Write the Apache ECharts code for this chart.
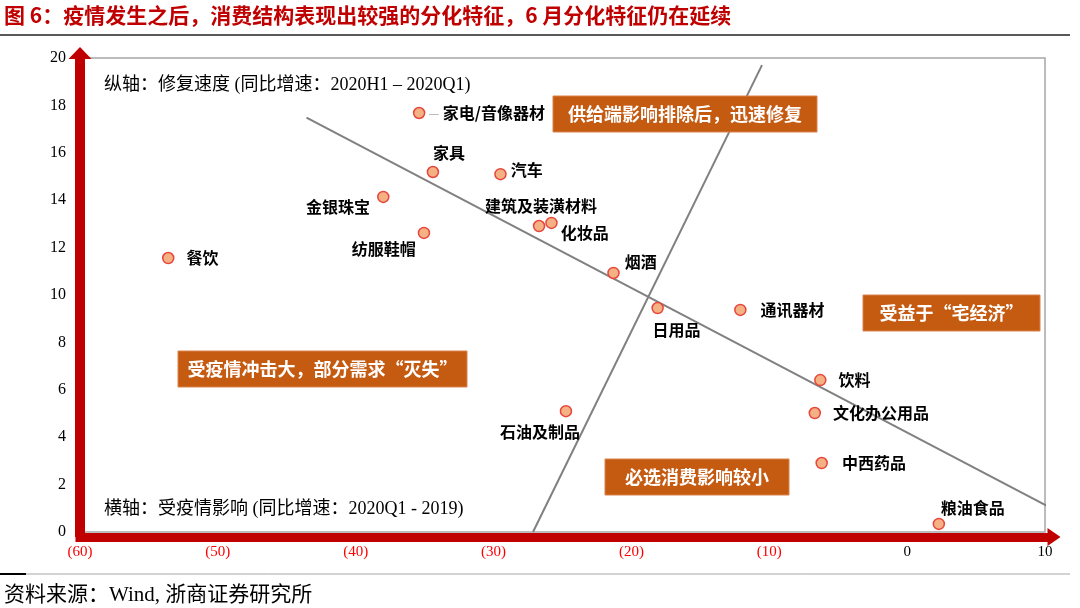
<!DOCTYPE html>
<html>
<head>
<meta charset="utf-8">
<script src="https://cdn.jsdelivr.net/npm/echarts@6/dist/echarts.min.js"></script>
<style>
html,body{margin:0;padding:0;background:#fff;}
#c{width:1080px;height:608px;}
</style>
</head>
<body>
<div id="c"></div>
<script>
// ---- data ----
const categories = ['餐饮','家电/音像器材','家具','汽车','金银珠宝','纺服鞋帽','建筑及装潢材料','化妆品','烟酒','日用品','通讯器材','饮料','文化办公用品','中西药品','粮油食品','石油及制品'];
const impactValues = [-53.6,-35.4,-34.4,-29.5,-38.0,-35.05,-26.7,-25.8,-21.3,-18.1,-12.1,-6.3,-6.7,-6.2,2.3,-24.75];
const recoveryValues = [11.56,17.68,15.19,15.1,14.14,12.62,12.91,13.04,10.93,9.45,9.37,6.41,5.02,2.91,0.34,5.1];
const trendLineDown = [[-43.57,17.48],[10.3,1.05]];
const trendLineUp = [[-27.14,0],[-10.53,19.7]];
const xTicks = [-60,-50,-40,-30,-20,-10,0,10];
const yTicks = [0,2,4,6,8,10,12,14,16,18,20];
const titleText = '图 6：疫情发生之后，消费结构表现出较强的分化特征，6 月分化特征仍在延续';
const yCaption = '纵轴：修复速度 (同比增速：2020H1 – 2020Q1)';
const xCaption = '横轴：受疫情影响 (同比增速：2020Q1 - 2019)';
const boxTexts = ['供给端影响排除后，迅速修复','受益于“宅经济”','受疫情冲击大，部分需求“灭失”','必选消费影响较小'];
const sourceText = '资料来源：Wind, 浙商证券研究所';

// ---- label placement (style only) ----
const labelCfg = {
 '餐饮': {position:'right', distance:12},
 '家电/音像器材': {position:'right', distance:3},
 '家具': {position:'top', distance:5, d:[16,0]},
 '汽车': {position:'right', distance:4, d:[0,-4]},
 '金银珠宝': {position:'left', distance:7, d:[0,10]},
 '纺服鞋帽': {position:'left', distance:2, d:[0,16]},
 '建筑及装潢材料': {position:'top', distance:6, d:[2,0]},
 '化妆品': {position:'right', distance:3, d:[0,10]},
 '烟酒': {position:'right', distance:5, d:[0,-11]},
 '日用品': {position:'bottom', distance:8, d:[19,0]},
 '通讯器材': {position:'right', distance:14},
 '饮料': {position:'right', distance:12},
 '文化办公用品': {position:'right', distance:12},
 '中西药品': {position:'right', distance:14},
 '粮油食品': {position:'top', distance:2, d:[34,0]},
 '石油及制品': {position:'bottom', distance:7, d:[-26,0]}
};

const CJK = "'Noto Sans CJK SC', sans-serif";
const SERIF_CJK = "'Liberation Serif', 'Noto Sans CJK SC', serif";
const RED = '#C00000';
const BOX = '#C55A11';

const scatterData = categories.map((n,i)=>{
  const c = labelCfg[n];
  const lab = {show:true, position:c.position, distance:c.distance};
  if (n === '家电/音像器材') {
    lab.formatter = '{l|—} {b}';
    lab.rich = {l:{color:'#A6A6A6', fontWeight:'normal', fontSize:12}};
  }
  return {name:n, value:[impactValues[i], recoveryValues[i]], label:lab};
});

const boxes = [
  {x:553,y:96,w:264,h:36},
  {x:863,y:295,w:177,h:36},
  {x:178,y:351,w:289,h:36},
  {x:605,y:459,w:184,h:36}
];
const boxGraphics = [];
boxes.forEach((b,i)=>{
  boxGraphics.push({type:'rect', shape:{x:b.x,y:b.y,width:b.w,height:b.h}, style:{fill:BOX, stroke:'#D9824A', lineWidth:1}, z:10});
  boxGraphics.push({type:'text', x:b.x+b.w/2, y:b.y+b.h/2, style:{text:boxTexts[i], fill:'#fff', font:'bold 18px '+CJK, textAlign:'center', textVerticalAlign:'middle'}, z:11});
});

const chart = echarts.init(document.getElementById('c'));
chart.setOption({
  animation:false,
  backgroundColor:'#fff',
  title:{text:titleText, left:4, top:5, padding:0,
    textStyle:{color:RED, fontSize:21, fontWeight:'bold', fontFamily:CJK}},
  grid:{left:80, right:35, top:58, bottom:76, show:true, borderColor:'#A6A6A6', borderWidth:1.5, backgroundColor:'transparent'},
  xAxis:{type:'value', min:xTicks[0], max:xTicks[xTicks.length-1], interval:10, offset:5,
    splitLine:{show:false}, axisTick:{show:false},
    axisLine:{show:true, onZero:false, symbol:['none','triangle'], symbolSize:[18,13], symbolOffset:[0,9],
      lineStyle:{color:RED, width:9, cap:'square'}},
    axisLabel:{margin:8, fontSize:15, fontFamily:"'Liberation Serif', serif",
      formatter:v=> v<0 ? '('+(-v)+')' : String(v),
      color:(v)=> (Number(v)<0 ? '#FF0000' : '#000')}
  },
  yAxis:{type:'value', min:yTicks[0], max:yTicks[yTicks.length-1], interval:2,
    splitLine:{show:false}, axisTick:{show:false},
    axisLine:{show:true, onZero:false, symbol:['none','triangle'], symbolSize:[23,12], symbolOffset:[0,5],
      lineStyle:{color:RED, width:10, cap:'square'}},
    axisLabel:{margin:14, fontSize:16, color:'#000', fontFamily:"'Liberation Serif', serif"}
  },
  graphic:[
    {type:'line', shape:{x1:0,y1:35,x2:1070,y2:35}, style:{stroke:'#595959', lineWidth:2}},
    {type:'line', shape:{x1:0,y1:574,x2:1070,y2:574}, style:{stroke:'#A6A6A6', lineWidth:1}},
    {type:'line', shape:{x1:0,y1:574,x2:26,y2:574}, style:{stroke:'#000', lineWidth:2}},
    {type:'text', x:4, y:595, style:{text:sourceText, fill:'#000', font:'21px '+SERIF_CJK, textVerticalAlign:'middle'}},
    {type:'text', x:104, y:85, style:{text:yCaption, fill:'#000', font:'18px '+SERIF_CJK, textVerticalAlign:'middle'}, z:5},
    {type:'text', x:104, y:509, style:{text:xCaption, fill:'#000', font:'18px '+SERIF_CJK, textVerticalAlign:'middle'}, z:5}
  ].concat(boxGraphics),
  series:[
    {type:'line', data:trendLineDown, symbol:'none', clip:false, silent:true, z:1,
      lineStyle:{color:'#808080', width:2}},
    {type:'line', data:trendLineUp, symbol:'none', clip:false, silent:true, z:1,
      lineStyle:{color:'#808080', width:2}},
    {type:'scatter', data:scatterData, symbolSize:11, z:3,
      itemStyle:{color:'#F4B183', borderColor:'#E8453C', borderWidth:1.5, opacity:1},
      label:{show:true, formatter:'{b}', color:'#000', fontSize:16, fontWeight:'bold', fontFamily:CJK},
      labelLayout:function(p){
        const c = labelCfg[categories[p.dataIndex]];
        const d = (c && c.d) || [0,0];
        return {dx:d[0], dy:d[1], hideOverlap:false};
      }
    }
  ]
});
</script>
</body>
</html>
